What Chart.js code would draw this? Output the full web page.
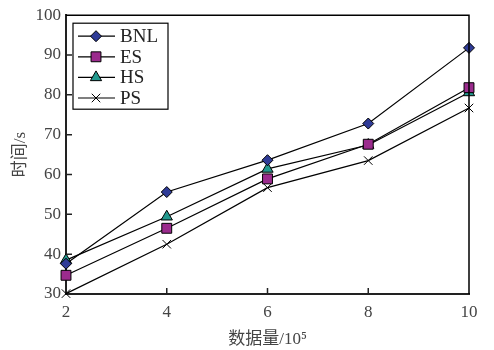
<!DOCTYPE html>
<html>
<head>
<meta charset="utf-8">
<script src="https://cdn.jsdelivr.net/npm/chart.js@4/dist/chart.umd.min.js"></script>
<style>
  html, body { margin: 0; padding: 0; background: #fff; }
  #wrap { width: 494px; height: 350px; position: relative; }
</style>
</head>
<body>
<div id="wrap"><canvas id="chart"></canvas></div>
<script>
"use strict";

// data
const sizes = [2, 4, 6, 8, 10];
const bnl = [37.6, 55.6, 63.6, 72.8, 91.8];
const es = [34.7, 46.5, 58.9, 67.6, 81.8];
const hs = [38.5, 49.4, 61.4, 67.4, 80.6];
const ps = [30.1, 42.5, 56.7, 63.5, 76.7];
const seriesNames = ['BNL', 'ES', 'HS', 'PS'];

const serif = "'Liberation Serif', 'DejaVu Serif', 'Noto Sans CJK SC', serif";

const toPoints = (vals) => sizes.map((x, i) => ({ x: x, y: vals[i] }));

const makeSet = (label, vals, style, color, radius) => ({
  label: label,
  data: toPoints(vals),
  borderColor: '#000',
  borderWidth: 1.2,
  pointStyle: style,
  pointRadius: radius,
  pointBackgroundColor: color,
  pointBorderColor: '#000',
  pointBorderWidth: 1,
  fill: false,
  tension: 0,
  clip: false
});

// inward ticks, box on top/right, legend inside plot
const frame = {
  id: 'frame',
  afterDatasetsDraw(chart) {
    const { ctx, chartArea: a, scales } = chart;
    ctx.save();
    ctx.strokeStyle = '#000';
    ctx.lineWidth = 1.5;
    ctx.beginPath();
    ctx.moveTo(a.left, a.top);
    ctx.lineTo(a.right, a.top);
    ctx.lineTo(a.right, a.bottom);
    ctx.stroke();

    ctx.strokeStyle = '#222';
    ctx.lineWidth = 1.5;
    ctx.beginPath();
    scales.x.ticks.forEach(t => {
      const px = scales.x.getPixelForValue(t.value);
      if (px <= a.left + 1 || px >= a.right - 1) return;
      ctx.moveTo(px, a.bottom);
      ctx.lineTo(px, a.bottom - 6);
    });
    scales.y.ticks.forEach(t => {
      const py = scales.y.getPixelForValue(t.value);
      if (py <= a.top + 1 || py >= a.bottom - 1) return;
      ctx.moveTo(a.left, py);
      ctx.lineTo(a.left + 6, py);
    });
    ctx.stroke();

    // legend
    const bx = a.left + 7, by = a.top + 8, bw = 95, bh = 86;
    ctx.fillStyle = '#fff';
    ctx.fillRect(bx, by, bw, bh);
    ctx.strokeStyle = '#000';
    ctx.lineWidth = 1.2;
    ctx.strokeRect(bx, by, bw, bh);
    ctx.font = '19px ' + serif;
    ctx.textBaseline = 'middle';
    ctx.textAlign = 'left';
    chart.data.datasets.forEach((ds, i) => {
      const y = by + 13 + i * 20.6;
      ctx.strokeStyle = '#000';
      ctx.lineWidth = 1.2;
      ctx.beginPath();
      ctx.moveTo(bx + 5, y);
      ctx.lineTo(bx + 42, y);
      ctx.stroke();
      ctx.fillStyle = ds.pointBackgroundColor;
      ctx.strokeStyle = '#000';
      ctx.lineWidth = 1;
      Chart.helpers.drawPoint(ctx, {
        pointStyle: ds.pointStyle,
        radius: ds.pointRadius,
        borderWidth: 1,
        rotation: 0
      }, bx + 23, y);
      ctx.fillStyle = '#222';
      ctx.fillText(ds.label, bx + 47, y + 1);
    });
    ctx.restore();
  }
};

new Chart(document.getElementById('chart'), {
  type: 'line',
  data: {
    datasets: [
      makeSet(seriesNames[0], bnl, 'rectRot', '#2f3b97', 5.5),
      makeSet(seriesNames[1], es, 'rect', '#9b2b8d', 7),
      makeSet(seriesNames[2], hs, 'triangle', '#22998e', 6.5),
      makeSet(seriesNames[3], ps, 'crossRot', '#000', 6)
    ]
  },
  options: {
    responsive: true,
    maintainAspectRatio: false,
    animation: false,
    layout: { padding: { top: 13, right: 25, left: 0, bottom: 0 } },
    plugins: {
      legend: { display: false },
      tooltip: { enabled: false }
    },
    scales: {
      x: {
        type: 'linear',
        min: 2,
        max: 10,
        ticks: {
          stepSize: 2,
          color: '#444',
          padding: 8,
          font: { family: serif, size: 17 }
        },
        grid: { drawOnChartArea: false, drawTicks: false },
        border: { display: true, color: '#222', width: 2 },
        title: {
          display: true,
          text: '数据量/10⁵',
          color: '#444',
          padding: { top: 0, bottom: 0 },
          font: { family: serif, size: 17 }
        },
        afterFit(scale) { scale.height = 56; }
      },
      y: {
        min: 30,
        max: 100,
        ticks: {
          stepSize: 10,
          color: '#444',
          padding: 5,
          font: { family: serif, size: 17 }
        },
        grid: { drawOnChartArea: false, drawTicks: false },
        border: { display: true, color: '#222', width: 2 },
        title: {
          display: true,
          text: '时间/s',
          color: '#444',
          padding: { top: 10, bottom: 0 },
          font: { family: serif, size: 17 }
        },
        afterFit(scale) { scale.width = 66; }
      }
    }
  },
  plugins: [frame]
});
</script>
</body>
</html>
